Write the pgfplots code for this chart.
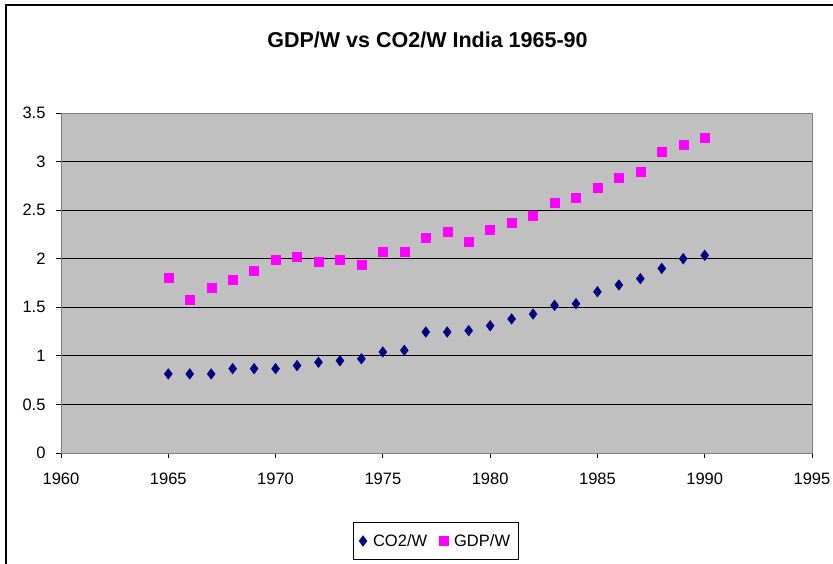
\documentclass[border=0pt]{standalone}
\usepackage{fontspec}
\setmainfont{Liberation Sans}
\usepackage{pgfplots}
\pgfplotsset{compat=1.18}
\definecolor{plotgray}{HTML}{C0C0C0}
\definecolor{navyc}{HTML}{000080}
\definecolor{magc}{HTML}{FF00FF}
\definecolor{framegray}{HTML}{808080}
\begin{document}
\begin{tikzpicture}[x=1pt,y=1pt]
\useasboundingbox (0,0) rectangle (833,563);
\draw[black, line width=1.2pt] (6,-20) -- (6,558) -- (850,558);
\node[font=\fontsize{21.5}{25}\selectfont\bfseries] at (427.5,523) {GDP/W vs CO2/W India 1965-90};
\begin{axis}[
  at={(61pt,110pt)}, anchor=south west,
  scale only axis, width=751pt, height=340pt,
  xmin=1960, xmax=1995, ymin=0, ymax=3.5,
  xtick={1960,1965,1970,1975,1980,1985,1990,1995},
  ytick={0,0.5,1,1.5,2,2.5,3,3.5},
  yticklabels={0,0.5,1,1.5,2,2.5,3,3.5},
  xticklabel style={/pgf/number format/1000 sep={}, yshift=-11pt},
  yticklabel style={xshift=-7pt},
  /pgf/number format/assume math mode=true,
  tick label style={font=\fontsize{16.5}{19}\selectfont, black},
  tick align=outside, major tick length=5pt, tick pos=left,
  tick style={black, line width=0.8pt},
  axis background/.style={fill=plotgray},
  axis line style={framegray, line width=1pt},
  ymajorgrids, major grid style={black, line width=0.9pt},
  legend columns=2,
  legend style={at={(axis description cs:0.4987,-0.2588)}, anchor=center,
    draw=black, fill=white, line width=0.8pt,
    font=\fontsize{16.5}{19}\selectfont,
    /tikz/every odd column/.append style={column sep=4pt},
    /tikz/every even column/.append style={column sep=10pt},
    inner xsep=6pt, inner ysep=10pt},
  legend cell align=left,
]
\addplot[only marks, mark=diamond*, mark size=5.4pt, mark options={draw=navyc, fill=navyc, line width=0.3pt}] coordinates {
(1965,0.814) (1966,0.814) (1967,0.814) (1968,0.868) (1969,0.868) (1970,0.868)
(1971,0.900) (1972,0.934) (1973,0.950) (1974,0.970) (1975,1.040) (1976,1.057)
(1977,1.246) (1978,1.246) (1979,1.260) (1980,1.310) (1981,1.380) (1982,1.430)
(1983,1.520) (1984,1.537) (1985,1.660) (1986,1.730) (1987,1.795) (1988,1.900)
(1989,2.000) (1990,2.035)
};
\addlegendentry{CO2/W}
\addplot[only marks, mark=square*, mark size=4.5pt, mark options={draw=magc, fill=magc, line width=0.3pt}] coordinates {
(1965,1.800) (1966,1.580) (1967,1.700) (1968,1.785) (1969,1.874) (1970,1.990)
(1971,2.025) (1972,1.974) (1973,1.990) (1974,1.940) (1975,2.077) (1976,2.077)
(1977,2.214) (1978,2.280) (1979,2.180) (1980,2.300) (1981,2.370) (1982,2.440)
(1983,2.575) (1984,2.626) (1985,2.730) (1986,2.830) (1987,2.900) (1988,3.107)
(1989,3.175) (1990,3.244)
};
\addlegendentry{GDP/W}
\end{axis}
\end{tikzpicture}
\end{document}
